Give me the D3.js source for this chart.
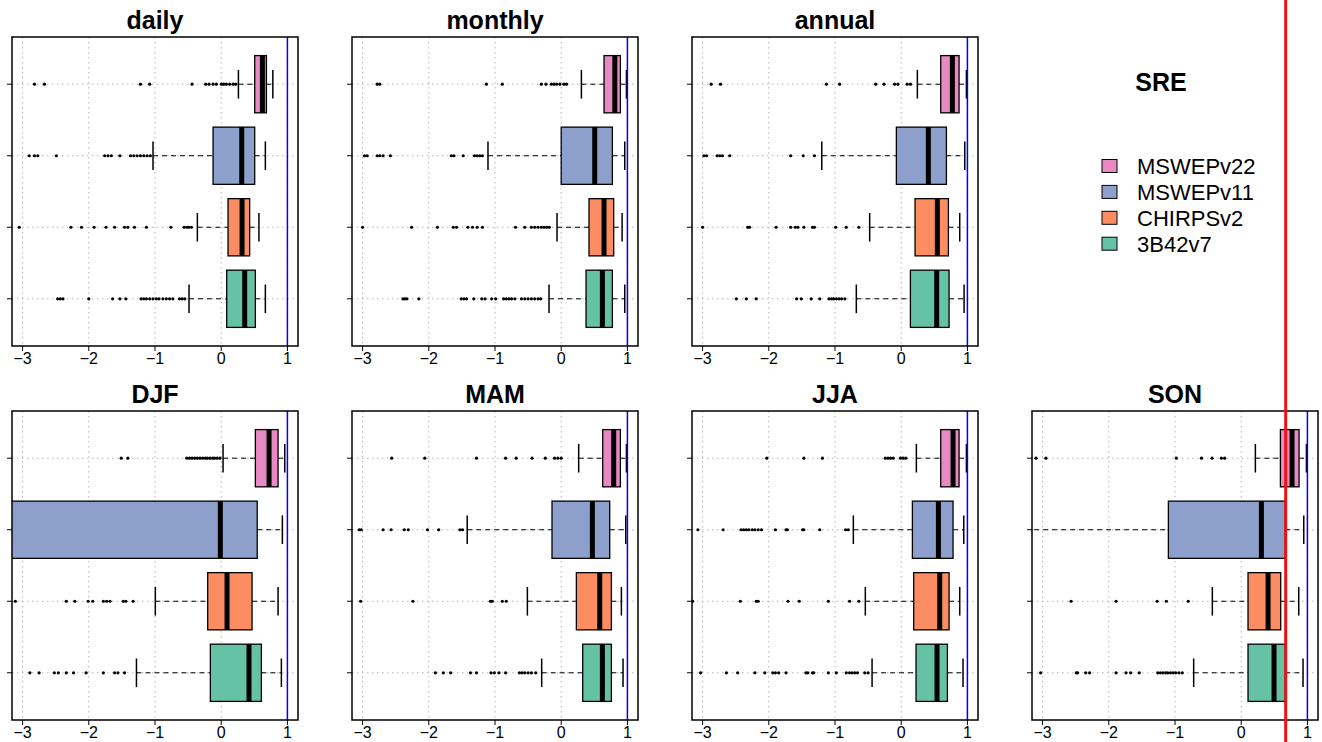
<!DOCTYPE html>
<html>
<head>
<meta charset="utf-8">
<script src="https://cdn.jsdelivr.net/npm/d3@7"></script>
<style>
  body { margin: 0; background: #fff; }
  text { font-family: "Liberation Sans", Arial, sans-serif; }
</style>
</head>
<body>
<script>
var W = 1322, H = 742;

// products, drawn from top (position 4) to bottom (position 1)
var products = ["MSWEPv22", "MSWEPv11", "CHIRPSv2", "3B42v7"];
var colors = ["#E78AC3", "#8DA0CB", "#FC8D62", "#66C2A5"];
var xTicks = [-3, -2, -1, 0, 1];
var periods = ["daily", "monthly", "annual", "DJF", "MAM", "JJA", "SON"];

// [lower whisker, q1, median, q3, upper whisker] per product
var dailyStats = [[0.26, 0.506, 0.622, 0.683, 0.78], [-1.03, -0.123, 0.31, 0.506, 0.667],
                  [-0.36, 0.103, 0.315, 0.43, 0.57], [-0.486, 0.083, 0.355, 0.516, 0.667]];
var monthlyStats = [[0.305, 0.647, 0.81, 0.894, 0.985], [-1.106, 0.0, 0.506, 0.773, 0.96],
                    [-0.063, 0.42, 0.647, 0.793, 0.92], [-0.184, 0.375, 0.622, 0.773, 0.96]];
var annualStats = [[0.244, 0.597, 0.773, 0.874, 0.985], [-1.2, -0.073, 0.41, 0.683, 0.96],
                   [-0.476, 0.209, 0.546, 0.713, 0.884], [-0.678, 0.139, 0.536, 0.723, 0.95]];
var djfStats = [[0.028, 0.516, 0.723, 0.859, 0.96], [-3.4, -3.3, -0.013, 0.544, 0.924],
                [-0.995, -0.204, 0.088, 0.466, 0.859], [-1.28, -0.164, 0.42, 0.607, 0.909]];
var mamStats = [[0.264, 0.627, 0.793, 0.894, 0.985], [-1.42, -0.139, 0.471, 0.733, 0.975],
                [-0.511, 0.229, 0.582, 0.758, 0.909], [-0.295, 0.325, 0.622, 0.758, 0.934]];
var jjaStats = [[0.229, 0.597, 0.783, 0.874, 0.985], [-0.723, 0.169, 0.562, 0.783, 0.945],
                [-0.542, 0.189, 0.582, 0.723, 0.884], [-0.44, 0.224, 0.541, 0.698, 0.934]];
var sonStats = [[0.214, 0.592, 0.768, 0.874, 0.985], [-3.4, -1.1, 0.305, 0.667, 0.945],
                [-0.436, 0.103, 0.406, 0.597, 0.869], [-0.718, 0.103, 0.496, 0.667, 0.934]];

// outliers per product
var dailyOut = [
  [-2.82, -2.67, -1.22, -1.08, -0.44, -0.234, -0.184, -0.123, -0.073, 0.003, 0.038, 0.078, 0.128, 0.179, 0.219],
  [-2.9, -2.82, -2.77, -2.49, -1.76, -1.71, -1.66, -1.53, -1.37, -1.32, -1.27, -1.22, -1.17, -1.12, -1.07],
  [-3.05, -2.27, -2.11, -1.92, -1.74, -1.61, -1.46, -1.41, -1.31, -1.13, -0.76, -0.56, -0.52, -0.49, -0.45],
  [-2.47, -2.43, -2.39, -2.0, -1.64, -1.53, -1.44, -1.21, -1.17, -1.13, -1.08, -1.03, -0.98, -0.94, -0.88,
   -0.83, -0.78, -0.73, -0.63, -0.59, -0.55]];
var monthlyOut = [
  [-2.78, -2.74, -1.13, -0.89, -0.3, -0.23, -0.15, -0.11, -0.07, -0.02, 0.04, 0.08],
  [-2.97, -2.93, -2.78, -2.74, -2.69, -2.58, -1.66, -1.62, -1.48, -1.31, -1.27, -1.23, -1.19],
  [-3.0, -2.26, -1.87, -1.63, -1.58, -1.41, -1.34, -1.27, -1.19, -0.69, -0.55, -0.45, -0.4, -0.35, -0.3,
   -0.26, -0.22, -0.18],
  [-2.39, -2.36, -2.33, -2.15, -1.51, -1.47, -1.43, -1.32, -1.2, -1.15, -1.05, -0.99, -0.87, -0.83, -0.79,
   -0.75, -0.7, -0.6, -0.55, -0.5, -0.45, -0.4, -0.35, -0.31]];
var annualOut = [
  [-2.87, -2.73, -1.13, -0.93, -0.385, -0.26, -0.1, -0.05, 0.09, 0.14],
  [-2.98, -2.94, -2.78, -2.74, -2.7, -2.59, -1.67, -1.48, -1.31],
  [-3.0, -2.32, -2.29, -1.89, -1.67, -1.6, -1.56, -1.47, -1.34, -1.31, -0.99, -0.83, -0.64],
  [-2.49, -2.34, -2.19, -1.58, -1.51, -1.36, -1.23, -1.09, -1.05, -1.02, -0.98, -0.94, -0.9, -0.85]];
var djfOut = [
  [-1.51, -1.41, -0.52, -0.48, -0.44, -0.4, -0.36, -0.32, -0.28, -0.24, -0.21, -0.17, -0.13, -0.1, -0.06, -0.02],
  [],
  [-3.11, -2.34, -2.21, -2.01, -1.94, -1.78, -1.73, -1.68, -1.48, -1.44, -1.33],
  [-2.89, -2.75, -2.52, -2.46, -2.34, -2.23, -2.04, -1.78, -1.61, -1.56, -1.46]];
var mamOut = [
  [-2.56, -2.06, -1.28, -0.84, -0.68, -0.44, -0.24, -0.1, -0.05, 0.0],
  [-3.05, -3.02, -2.69, -2.57, -2.37, -2.31, -2.02, -1.85, -1.53, -1.49],
  [-3.03, -2.24, -1.07, -1.04, -0.89, -0.83],
  [-1.9, -1.78, -1.67, -1.37, -1.28, -1.06, -1.01, -0.94, -0.84, -0.63, -0.59, -0.55, -0.5, -0.45, -0.385]];
var jjaOut = [
  [-2.03, -1.47, -1.19, -0.24, -0.2, -0.16, -0.12, -0.01, 0.03, 0.07],
  [-3.07, -2.69, -2.42, -2.38, -2.34, -2.3, -2.25, -2.21, -2.16, -2.11, -1.9, -1.74, -1.72, -1.49, -1.47,
   -1.23, -0.84, -0.8],
  [-3.15, -2.43, -2.19, -2.16, -1.71, -1.54, -1.1, -0.78, -0.64],
  [-3.03, -2.64, -2.47, -2.21, -2.06, -1.94, -1.9, -1.85, -1.74, -1.44, -1.41, -1.34, -1.32, -1.1, -0.98,
   -0.83, -0.78, -0.74, -0.7, -0.66, -0.55, -0.5]];
var sonOut = [
  [-3.1, -2.95, -0.98, -0.6, -0.44, -0.3, -0.25],
  [],
  [-2.57, -1.89, -1.27, -1.13, -0.8],
  [-3.03, -2.49, -2.47, -2.35, -2.29, -1.89, -1.74, -1.67, -1.54, -1.26, -1.22, -1.18, -1.14, -1.11, -1.07,
   -1.03, -0.99, -0.94, -0.89]];

var refValue = 1;        // blue reference line
var markerValue = 0.672; // red marker line (SON panel)

var allStats = [dailyStats, monthlyStats, annualStats, djfStats, mamStats, jjaStats, sonStats];
var allOut = [dailyOut, monthlyOut, annualOut, djfOut, mamOut, jjaOut, sonOut];
var cells = [[0, 0], [1, 0], [2, 0], [0, 1], [1, 1], [2, 1], [3, 1]];

// layout
var colX = [12, 352, 692, 1032];
var rowY = [37, 411];
var pw = 286, ph = 309;

var svg = d3.select("body").append("svg")
            .attr("width", W)
            .attr("height", H);

var x = d3.scaleLinear().domain([-3.16, 1.16]).range([0, pw]);
var y = d3.scaleLinear().domain([0.34, 4.66]).range([ph, 0]);
var pos = d => 4 - d; // product index -> box position
var half = y(0) - y(0.4);

periods.forEach(function (name, p) {
  var g = svg.append("g")
             .attr("transform", "translate(" + colX[cells[p][0]] + "," + rowY[cells[p][1]] + ")");

  g.append("clipPath").attr("id", "clip" + p)
   .append("rect").attr("width", pw).attr("height", ph);

  // Title
  g.append("text")
   .attr("x", pw / 2)
   .attr("y", -8.5)
   .attr("text-anchor", "middle")
   .attr("font-weight", "bold")
   .attr("font-size", 25)
   .text(name);

  var plot = g.append("g").attr("clip-path", "url(#clip" + p + ")");

  // Grid
  plot.selectAll(".gx").data(xTicks).enter().append("line")
      .attr("x1", d => x(d)).attr("x2", d => x(d))
      .attr("y1", 0).attr("y2", ph)
      .attr("stroke", "#b4b4b4").attr("stroke-dasharray", "1.5,3.5");
  plot.selectAll(".gy").data([1, 2, 3, 4]).enter().append("line")
      .attr("x1", 0).attr("x2", pw)
      .attr("y1", d => y(d)).attr("y2", d => y(d))
      .attr("stroke", "#b4b4b4").attr("stroke-dasharray", "1.5,3.5");

  var stats = allStats[p], outs = allOut[p];

  stats.forEach(function (s, i) {
    var cy = y(pos(i));
    var b = plot.append("g");
    // whiskers
    b.append("line").attr("x1", x(s[0])).attr("x2", x(s[1])).attr("y1", cy).attr("y2", cy)
     .attr("stroke", "#000").attr("stroke-dasharray", "5,4");
    b.append("line").attr("x1", x(s[3])).attr("x2", x(s[4])).attr("y1", cy).attr("y2", cy)
     .attr("stroke", "#000").attr("stroke-dasharray", "5,4");
    // staples
    [s[0], s[4]].forEach(v => b.append("line")
      .attr("x1", x(v)).attr("x2", x(v))
      .attr("y1", cy - half / 2).attr("y2", cy + half / 2)
      .attr("stroke", "#000").attr("stroke-width", 1.5));
    // box
    b.append("rect")
     .attr("x", x(s[1])).attr("width", x(s[3]) - x(s[1]))
     .attr("y", cy - half).attr("height", 2 * half)
     .attr("fill", colors[i]).attr("stroke", "#000").attr("stroke-width", 1.3);
    // median
    b.append("line").attr("x1", x(s[2])).attr("x2", x(s[2]))
     .attr("y1", cy - half).attr("y2", cy + half)
     .attr("stroke", "#000").attr("stroke-width", 5);
    // outliers
    b.selectAll("circle").data(outs[i]).enter().append("circle")
     .attr("cx", d => x(d)).attr("cy", cy).attr("r", 1.6).attr("fill", "#000");
  });

  // reference line
  plot.append("line")
      .attr("x1", x(refValue)).attr("x2", x(refValue))
      .attr("y1", 0).attr("y2", ph)
      .attr("stroke", "#0000ff").attr("stroke-width", 1.5);

  // frame
  g.append("rect").attr("width", pw).attr("height", ph)
   .attr("fill", "none").attr("stroke", "#000").attr("stroke-width", 1.5);

  // x axis
  g.selectAll(".xt").data(xTicks).enter().append("line")
   .attr("x1", d => x(d)).attr("x2", d => x(d))
   .attr("y1", ph).attr("y2", ph + 5)
   .attr("stroke", "#000");
  g.selectAll(".xl").data(xTicks).enter().append("text")
   .attr("x", d => x(d)).attr("y", ph + 17.5)
   .attr("text-anchor", "middle")
   .attr("font-size", 16)
   .text(d => d < 0 ? "\u2212" + Math.abs(d) : d);

  // y ticks
  g.selectAll(".yt").data([1, 2, 3, 4]).enter().append("line")
   .attr("x1", -5).attr("x2", 0)
   .attr("y1", d => y(d)).attr("y2", d => y(d))
   .attr("stroke", "#000");
});

// Legend
svg.append("text")
   .attr("x", 1161).attr("y", 90.7)
   .attr("text-anchor", "middle")
   .attr("font-weight", "bold")
   .attr("font-size", 25)
   .text("SRE");

var leg = svg.append("g").attr("transform", "translate(1102,166)");
products.forEach(function (name, i) {
  leg.append("rect")
     .attr("x", 0).attr("y", i * 25.9 - 6.5)
     .attr("width", 15).attr("height", 13)
     .attr("fill", colors[i]).attr("stroke", "#000").attr("stroke-width", 1);
  leg.append("text")
     .attr("x", 35).attr("y", i * 25.9 + 7.8)
     .attr("font-size", 22)
     .text(name);
});

// Red marker line across the page, at the SON panel scale
svg.append("line")
   .attr("x1", colX[3] + x(markerValue)).attr("x2", colX[3] + x(markerValue))
   .attr("y1", 0).attr("y2", H)
   .attr("stroke", "#ee1111").attr("stroke-width", 3);
</script>
</body>
</html>
